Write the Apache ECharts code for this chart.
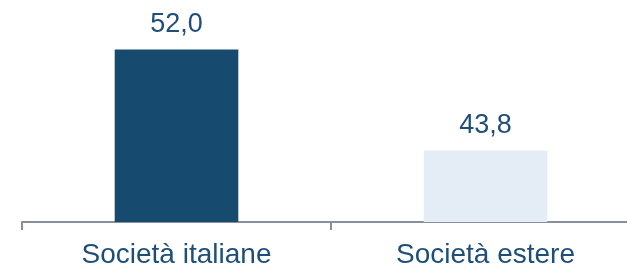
<!DOCTYPE html>
<html>
<head>
<meta charset="utf-8">
<script src="https://cdn.jsdelivr.net/npm/echarts@6/dist/echarts.min.js"></script>
<style>
  html, body { margin: 0; padding: 0; background: #fff; }
  #chart { width: 627px; height: 268px; }
</style>
</head>
<body>
<div id="chart"></div>
<script>
var categories = ['Società italiane', 'Società estere'];
var values = [52.0, 43.8];
var barColors = ['#164a6e', '#e4edf5'];

var chart = echarts.init(document.getElementById('chart'));

var option = {
  animation: false,
  grid: {
    left: 22,
    top: 15,
    bottom: 46,
    right: -13,
    outerBoundsMode: 'none'
  },
  xAxis: {
    type: 'category',
    data: categories,
    axisLine: {
      lineStyle: { color: '#8a8f9e', width: 2 }
    },
    axisTick: {
      show: true,
      length: 8,
      lineStyle: { color: '#8a8f9e', width: 2 }
    },
    axisLabel: {
      color: '#1f4e79',
      fontSize: 28,
      fontFamily: 'Liberation Sans',
      margin: 19
    }
  },
  yAxis: {
    type: 'value',
    min: 38,
    max: 54.8,
    show: false
  },
  series: [{
    type: 'bar',
    barWidth: '40%',
    data: values.map(function (v, i) {
      return { value: v, itemStyle: { color: barColors[i] } };
    }),
    label: {
      show: true,
      position: 'top',
      distance: 11,
      color: '#1f4e79',
      fontSize: 27,
      fontFamily: 'Liberation Sans',
      formatter: function (p) {
        return p.value.toFixed(1).replace('.', ',');
      }
    }
  }]
};

chart.setOption(option);
</script>
</body>
</html>
